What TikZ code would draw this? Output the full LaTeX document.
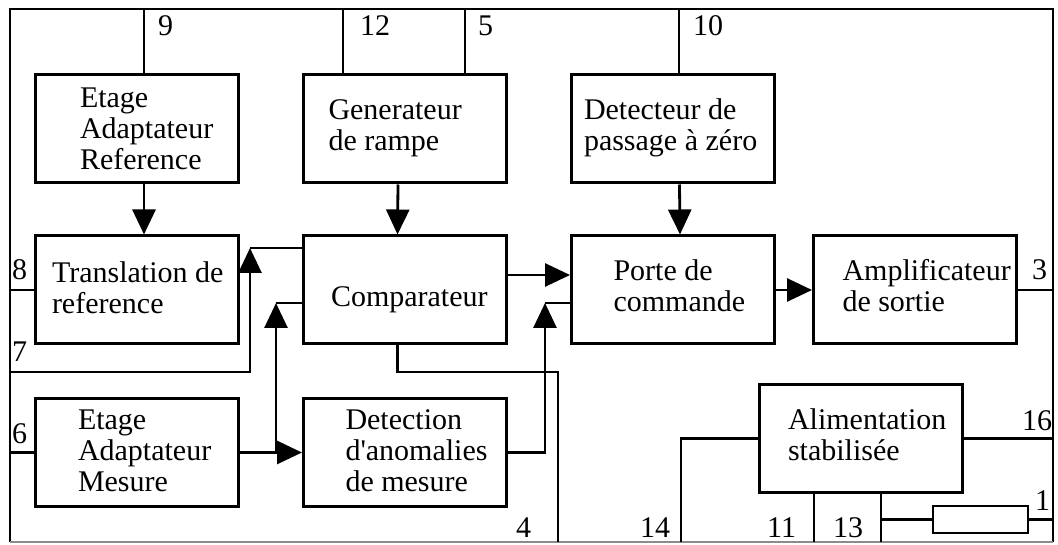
\documentclass[tikz,border=0pt]{standalone}
\usepackage{fontspec}
\setmainfont{Liberation Serif}
\usetikzlibrary{positioning,arrows.meta}

% text block set flush left inside a box of fixed width, optionally lowered
\newcommand{\boxtext}[3][0]{\makebox[203pt][l]{\hspace*{#2pt}\raisebox{-#1pt}[\height][\depth]{\begin{tabular}{@{}l@{}}#3\end{tabular}}}}

\begin{document}
\begin{tikzpicture}[x=1pt, y=-1pt,
    block/.style={draw, line width=3pt, minimum width=203pt, minimum height=108pt, inner sep=0pt, font=\fontsize{30}{31}\selectfont},
    wire/.style={line width=2.8pt},
    arrow/.style={wire, -{Triangle[length=25pt, width=23pt]}},
    pin/.style={anchor=base west, inner sep=0pt, font=\fontsize{30}{31}\selectfont},
]
\useasboundingbox (0,0) rectangle (1058,545);

% frame and pins
\draw[wire] (10,542) -- (10,9) -- (1053,9) -- (1053,542);
\draw[line width=2.4pt, black!45] (10,542) -- (1053,542);
\coordinate (p9) at (144,9);
\coordinate (p12) at (343,9);
\coordinate (p5) at (465,9);
\coordinate (p10) at (679,9);
\coordinate (p8) at (10,290);
\coordinate (p7) at (10,372);
\coordinate (p6) at (10,452.5);
\coordinate (p3) at (1053,290);
\coordinate (p16) at (1053,438.5);
\coordinate (p1) at (1053,519.5);
\coordinate (p4) at (558,542);
\coordinate (p14) at (681,542);
\coordinate (p11) at (814,542);
\coordinate (p13) at (881,542);

% blocks
\node[block] (eref) at (136.5,129) {\boxtext[3]{45}{Etage\\Adaptateur\\Reference}};
\node[block] (gen) at (405,129) {\boxtext{25}{Generateur\\de rampe}};
\node[block] (zero) at (672.5,129) {\boxtext{13}{Detecteur de\\passage à zéro}};
\node[block] (trans) at (136.5,290) {\boxtext[2]{17}{Translation de\\reference}};
\node[block] (comp) at (404.5,290) {\boxtext[10]{28}{Comparateur}};
\node[block] (porte) at (673,290) {\boxtext{42}{Porte de\\commande}};
\node[block] (ampli) at (915,290) {\boxtext{29}{Amplificateur\\de sortie}};
\node[block] (emes) at (136.5,452.5) {\boxtext[2]{43}{Etage\\Adaptateur\\Mesure}};
\node[block] (anom) at (405,452.5) {\boxtext[2]{42}{Detection\\d\textquotesingle anomalies\\de mesure}};
\node[block] (alim) at (860.5,438.5) {\boxtext{29}{Alimentation\\stabilisée}};
\node[draw, line width=2.8pt, minimum width=95pt, minimum height=27pt, inner sep=0pt] (res) at (980.5,519.5) {};

% pin numbers
\node[pin] (l9) at (158,36) {9};
\node[pin] (l12) at (360,36) {12};
\node[pin] (l5) at (478,36) {5};
\node[pin] (l10) at (693,36) {10};
\node[pin] (l8) at (12,280) {8};
\node[pin] (l7) at (12,362) {7};
\node[pin] (l6) at (12,443) {6};
\node[pin] (l3) at (1032,280) {3};
\node[pin] (l16) at (1022,430) {16};
\node[pin] (l1) at (1035,510) {1};
\node[pin] (l4) at (516,537) {4};
\node[pin] (l14) at (640,537) {14};
\node[pin] (l11) at (767,537) {11};
\node[pin] (l13) at (833,537) {13};

% top pins
\draw[wire] (p9) -- (p9 |- eref.north);
\draw[wire] (p12) -- (p12 |- gen.north);
\draw[wire] (p5) -- (p5 |- gen.north);
\draw[wire] (p10) -- (p10 |- zero.north);

% vertical arrows
\draw[arrow] (p9 |- eref.south) -- (p9 |- trans.north);
\draw[arrow] ([xshift=-7pt]gen.south) -- ([xshift=-7pt]comp.north);
\draw[arrow] ([xshift=7pt]zero.south) -- ([xshift=7pt]porte.north);

% left side
\draw[wire] (p8) -- (trans.west);
\coordinate (c7) at (250,248);
\draw[arrow] (p7) -| (c7);
\draw[wire] (c7) -- (c7 -| comp.west);
\draw[wire] (p6) -- (emes.west);
\draw[arrow] (emes.east) -- (anom.west);
\coordinate (c6) at (276,303);
\draw[arrow] (c6 |- emes.east) -- (c6);
\draw[wire] (c6) -- (c6 -| comp.west);

% middle
\draw[arrow] ([yshift=15pt]comp.east) -- ([yshift=15pt]porte.west);
\coordinate (c4) at (545,303);
\draw[arrow] (anom.east) -| (c4);
\draw[wire] (c4) -- (c4 -| porte.west);
\coordinate (c5) at (558,372);
\draw[wire] ([xshift=-7pt]comp.south) |- (c5) -- (p4);

% right side
\draw[arrow] (porte.east) -- (ampli.west);
\draw[wire] (ampli.east) -- (p3);
\draw[wire] (alim.west) -| (p14);
\draw[wire] (alim.east) -- (p16);
\draw[wire] (p11 |- alim.south) -- (p11);
\draw[wire] (p13 |- alim.south) -- (p13);
\draw[wire] (p13 |- res.west) -- (res.west);
\draw[wire] (res.east) -- (p1);
\end{tikzpicture}
\end{document}
